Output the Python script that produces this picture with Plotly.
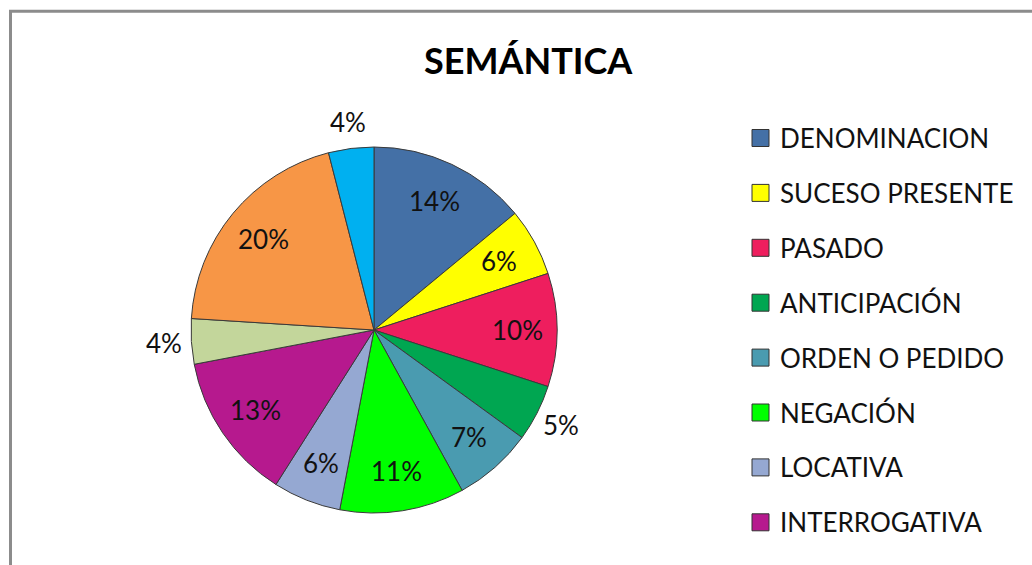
import math
import plotly.graph_objects as go

title = "SEMÁNTICA"
labels = ["DENOMINACION", "SUCESO PRESENTE", "PASADO", "ANTICIPACIÓN",
          "ORDEN O PEDIDO", "NEGACIÓN", "LOCATIVA", "INTERROGATIVA",
          "OTRA 1", "OTRA 2", "OTRA 3"]
values = [14, 6, 10, 5, 7, 11, 6, 13, 4, 20, 4]
colors = ["#4470A6", "#FFFF00", "#EE1E5E", "#00A651", "#4A9BB0", "#00FF00",
          "#95A8D2", "#B6198E", "#C3D69B", "#F79646", "#00B0F0"]
outside = [False, False, False, True, False, False, False, False, True, False, True]

W, H = 1032, 565
FONT = "Lato"

# pie placement (pixels)
cx, cy, r = 374, 330, 183

fig = go.Figure()
fig.add_trace(go.Pie(
    labels=labels, values=values, sort=False, direction="clockwise",
    rotation=0, marker=dict(colors=colors, line=dict(color="#3a3a3a", width=1)),
    textinfo="none",
    domain=dict(x=[(cx - r) / W, (cx + r) / W],
                y=[1 - (cy + r) / H, 1 - (cy - r) / H]),
    showlegend=False, hoverinfo="label+percent",
))

shapes = [dict(type="rect", xref="paper", yref="paper",
               x0=10.5 / W, x1=1.05, y0=-0.05, y1=1 - 11.3 / H,
               line=dict(color="#8c8c8c", width=3), fillcolor="rgba(0,0,0,0)")]
annotations = [dict(text="<b>" + title + "</b>", xref="paper", yref="paper",
                    x=528 / W, y=1 - 60 / H, xanchor="center", yanchor="middle",
                    showarrow=False,
                    font=dict(family=FONT, size=36, color="#000000"))]

# percentage labels placed along each slice's bisector (derived from values)
total = sum(values)
cum = 0
for v, out in zip(values, outside):
    mid = (cum + v / 2) / total * 2 * math.pi
    cum += v
    d = 210 if out else 143
    px = cx + d * math.sin(mid)
    py = cy - d * math.cos(mid)
    annotations.append(dict(text=f"{round(v / total * 100)}%", xref="paper",
                            yref="paper", x=px / W, y=1 - py / H,
                            xanchor="center", yanchor="middle", showarrow=False,
                            font=dict(family=FONT, size=26, color="#111111")))

# legend (built from labels/colors)
y0, step = 138, 54.9
for i, (lab, col) in enumerate(zip(labels, colors)):
    yc = y0 + i * step
    if yc > H - 15:
        break
    shapes.append(dict(type="rect", xref="paper", yref="paper",
                       x0=752 / W, x1=769 / W,
                       y0=1 - (yc + 8.5) / H, y1=1 - (yc - 8.5) / H,
                       fillcolor=col, line=dict(color="#333333", width=1)))
    annotations.append(dict(text=lab, xref="paper", yref="paper",
                            x=778 / W, y=1 - yc / H, xanchor="left",
                            yanchor="middle", showarrow=False,
                            font=dict(family=FONT, size=26, color="#111111")))

fig.update_layout(width=W, height=H, margin=dict(l=0, r=0, t=0, b=0),
                  paper_bgcolor="white", plot_bgcolor="white",
                  shapes=shapes, annotations=annotations)

fig.write_html("out.html", config={"displayModeBar": False},
               post_script="document.body.style.margin='0';document.body.style.overflow='hidden';")
